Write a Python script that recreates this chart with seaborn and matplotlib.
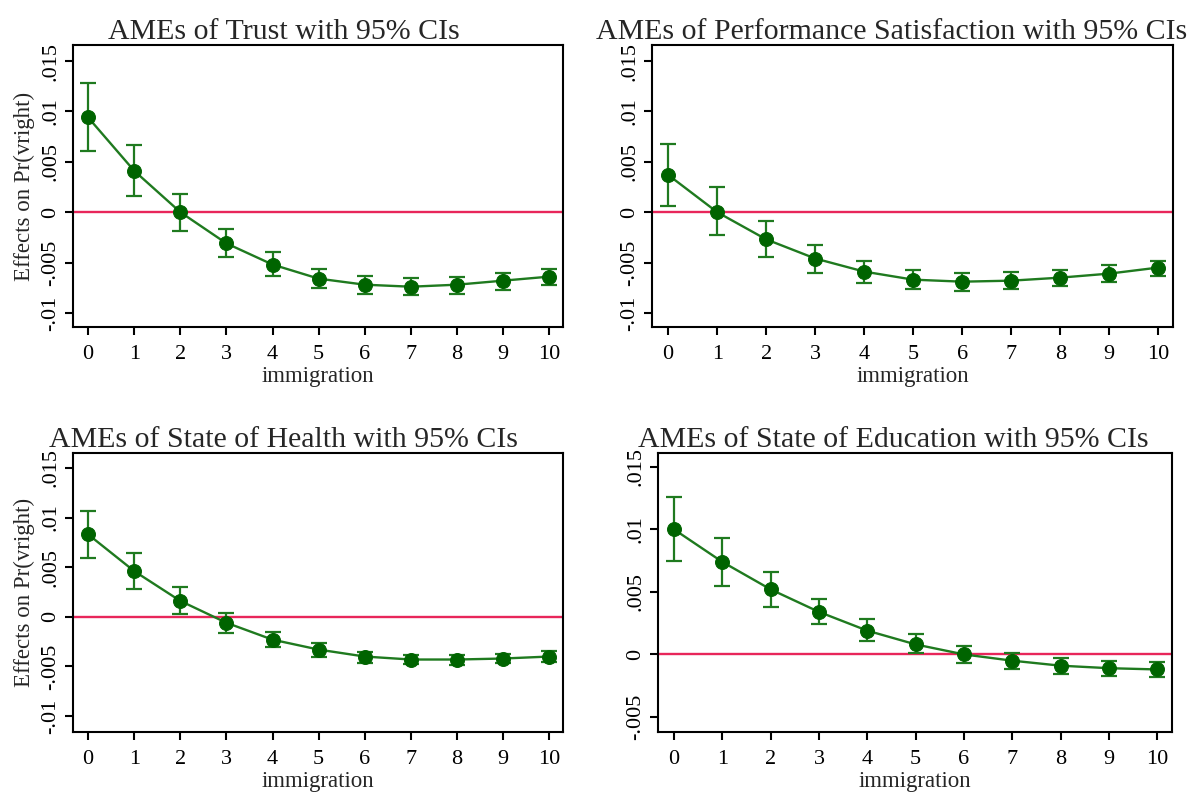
import numpy as np
import pandas as pd
import matplotlib
matplotlib.use('Agg')
import matplotlib.pyplot as plt
import seaborn as sns

# immigration scale 0-10
immigration = list(range(11))

# AMEs and 95% CIs
trust_ame = [0.0094, 0.0041, 0.0000, -0.0031, -0.0052, -0.0066, -0.0072, -0.0074, -0.0072, -0.0068, -0.0064]
trust_lo  = [0.0061, 0.0016, -0.0019, -0.0045, -0.0063, -0.0075, -0.0081, -0.0082, -0.0081, -0.0077, -0.0072]
trust_hi  = [0.0128, 0.0067, 0.0018, -0.0017, -0.0040, -0.0056, -0.0063, -0.0065, -0.0064, -0.0060, -0.0056]

perf_ame = [0.0037, 0.0000, -0.0027, -0.0046, -0.0059, -0.0067, -0.0069, -0.0068, -0.0065, -0.0061, -0.0055]
perf_lo  = [0.0006, -0.0023, -0.0045, -0.0060, -0.0070, -0.0076, -0.0078, -0.0076, -0.0073, -0.0069, -0.0063]
perf_hi  = [0.0068, 0.0025, -0.0009, -0.0033, -0.0048, -0.0057, -0.0060, -0.0059, -0.0057, -0.0052, -0.0048]

health_ame = [0.0083, 0.0046, 0.0016, -0.0006, -0.0023, -0.0033, -0.0040, -0.0043, -0.0043, -0.0042, -0.0040]
health_lo  = [0.0059, 0.0028, 0.0003, -0.0016, -0.0030, -0.0040, -0.0046, -0.0048, -0.0049, -0.0047, -0.0045]
health_hi  = [0.0107, 0.0064, 0.0030, 0.0004, -0.0015, -0.0026, -0.0035, -0.0038, -0.0038, -0.0037, -0.0034]

edu_ame = [0.0100, 0.0074, 0.0052, 0.0034, 0.0019, 0.0008, 0.0000, -0.0005, -0.0009, -0.0011, -0.0012]
edu_lo  = [0.0075, 0.0055, 0.0038, 0.0024, 0.0011, 0.0001, -0.0007, -0.0012, -0.0016, -0.0017, -0.0018]
edu_hi  = [0.0126, 0.0093, 0.0066, 0.0044, 0.0028, 0.0016, 0.0007, 0.0001, -0.0003, -0.0005, -0.0006]

titles = ['AMEs of Trust with 95% CIs',
          'AMEs of Performance Satisfaction with 95% CIs',
          'AMEs of State of Health with 95% CIs',
          'AMEs of State of Education with 95% CIs']

yticks_main = [-0.01, -0.005, 0, 0.005, 0.01, 0.015]
yticklabels_main = ['-.01', '-.005', '0', '.005', '.01', '.015']
yticks_edu = [-0.005, 0, 0.005, 0.01, 0.015]
yticklabels_edu = ['-.005', '0', '.005', '.01', '.015']

sns.set_style('ticks')
plt.rcParams['font.family'] = ['Liberation Serif', 'DejaVu Serif']
plt.rcParams['axes.linewidth'] = 1.5

GREEN_DARK = '#006400'
GREEN = '#1f7a1f'
RED = '#e8265a'

fig = plt.figure(figsize=(11.9, 7.96), dpi=100)

panels = [
    dict(ame=trust_ame, lo=trust_lo, hi=trust_hi, rect=[0.0613, 0.5892, 0.4118, 0.3543],
         ylim=(-0.0114, 0.0166), yt=yticks_main, ytl=yticklabels_main, ylab=True, tx=0.43),
    dict(ame=perf_ame, lo=perf_lo, hi=perf_hi, rect=[0.5479, 0.5892, 0.4378, 0.3543],
         ylim=(-0.0114, 0.0166), yt=yticks_main, ytl=yticklabels_main, ylab=False, tx=0.46),
    dict(ame=health_ame, lo=health_lo, hi=health_hi, rect=[0.0613, 0.0804, 0.4118, 0.3505],
         ylim=(-0.0116, 0.0165), yt=yticks_main, ytl=yticklabels_main, ylab=True, tx=0.43),
    dict(ame=edu_ame, lo=edu_lo, hi=edu_hi, rect=[0.5529, 0.0804, 0.4319, 0.3505],
         ylim=(-0.0062, 0.0161), yt=yticks_edu, ytl=yticklabels_edu, ylab=False, tx=0.457),
]

for title, p in zip(titles, panels):
    ax = fig.add_axes(p['rect'])
    df = pd.DataFrame({'immigration': immigration, 'ame': p['ame'],
                       'lo': p['lo'], 'hi': p['hi']})

    ax.axhline(0, color=RED, lw=1.7, zorder=1)

    # confidence intervals with caps
    mid = df['ame'].values
    err = np.vstack([mid - df['lo'].values, df['hi'].values - mid])
    ax.errorbar(df['immigration'], mid, yerr=err, fmt='none', ecolor=GREEN,
                elinewidth=1.6, capsize=5.5, capthick=1.6, zorder=2)

    sns.lineplot(data=df, x='immigration', y='ame', ax=ax, color=GREEN, lw=1.7,
                 marker='o', markersize=10, markerfacecolor=GREEN_DARK,
                 markeredgecolor=GREEN_DARK, zorder=3)

    ax.set_xlim(-0.33, 10.3)
    ax.set_ylim(*p['ylim'])
    ax.set_xticks(immigration)
    ax.set_xticklabels([str(v) for v in immigration])
    ax.set_yticks(p['yt'])
    ax.set_yticklabels(p['ytl'], rotation=90, va='center')
    ax.tick_params(axis='both', direction='out', length=6, width=1.5,
                   labelsize=16, colors='black')
    ax.tick_params(axis='x', pad=7)
    ax.tick_params(axis='y', pad=3)
    for s in ax.spines.values():
        s.set_visible(True)
        s.set_color('black')
        s.set_linewidth(1.5)

    ax.set_xlabel('immigration', fontsize=16.5, labelpad=1.5)
    if p['ylab']:
        ax.set_ylabel('Effects on Pr(vright)', fontsize=16.5, labelpad=5)
    else:
        ax.set_ylabel('')
    ax.set_title(title, fontsize=21.5, x=p['tx'], pad=4)

fig.savefig('out.png', dpi=100)
